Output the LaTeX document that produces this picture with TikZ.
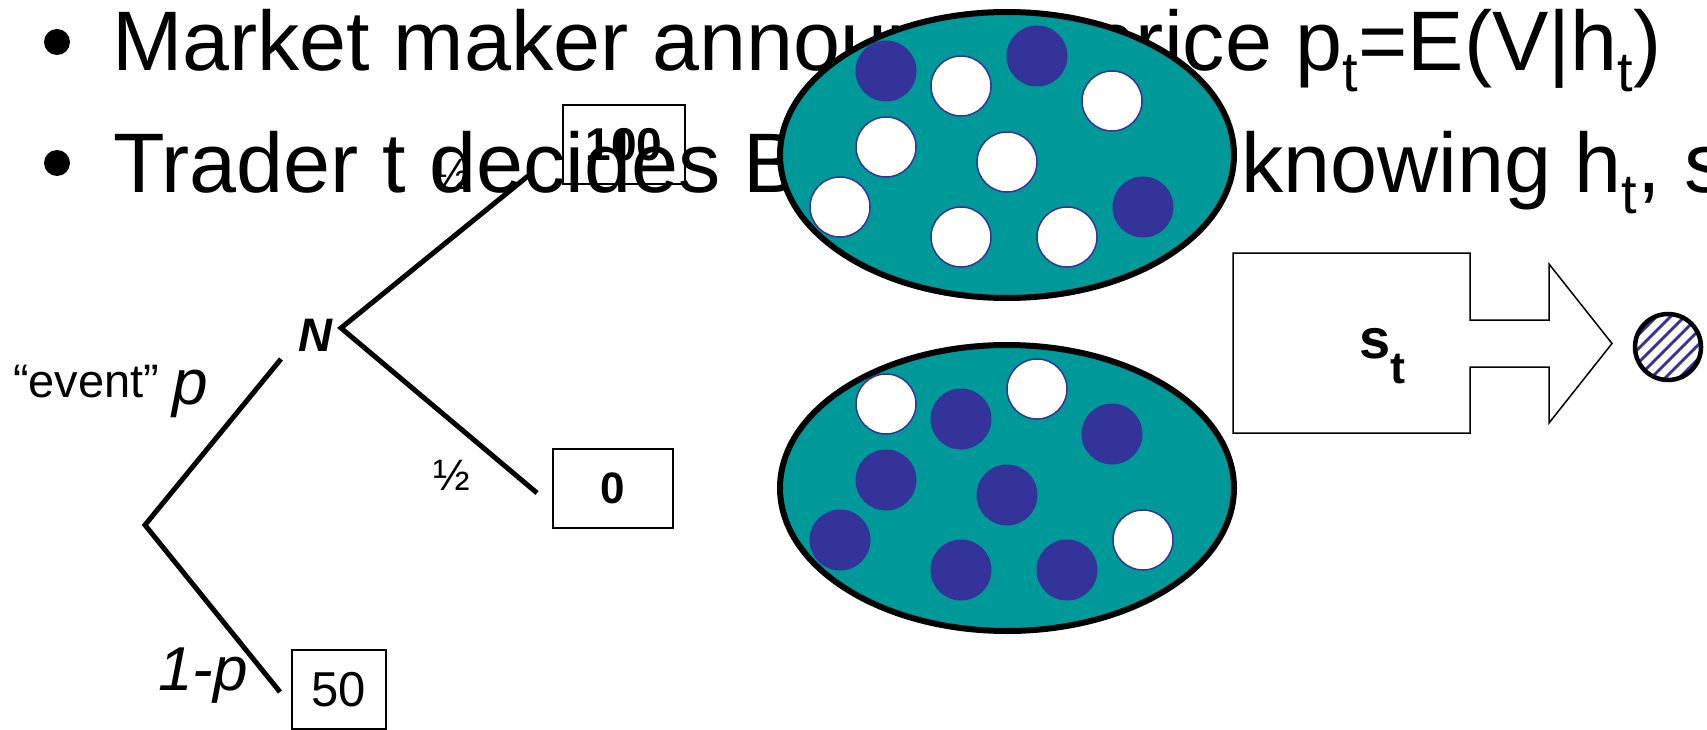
\documentclass[tikz,border=0pt]{standalone}
\usepackage{fontspec}
\setmainfont{Liberation Sans}
\definecolor{tealbag}{HTML}{009999}
\definecolor{navyball}{HTML}{333399}
\newcommand{\fs}[1]{\fontsize{#1pt}{#1pt}\selectfont}
\newcommand{\mysub}[3]{\raisebox{-#2pt}{\fs{#1}#3}}
\tikzset{
  branch/.style={line width=5pt, line join=miter},
  payoff/.style={draw, line width=1.6pt, inner sep=0pt},
  bag/.style={fill=tealbag, draw=black, line width=6pt},
  blueball/.style={fill=navyball, draw=navyball, line width=1pt},
  whiteball/.style={fill=white, draw=navyball, line width=1.5pt},
  txt/.style={inner sep=0pt, anchor=base west},
  bulletdot/.style={circle, fill=black, inner sep=0pt, minimum size=26pt},
}
\begin{document}
\begin{tikzpicture}[x=1pt, y=-1pt]
\useasboundingbox (0,0) rectangle (1707,730);
\clip (0,0) rectangle (1707,730);

% bullet text
\node[bulletdot] (b1) at (57,42) {};
\node[bulletdot] (b2) at (57,163) {};
\node[txt] (line1) at (112,71) {\fs{84.5}Market maker announces price p\mysub{56}{21}{t}=E(V|h\mysub{56}{21}{t})};
\node[txt] (line2a) at (113,193) {\fs{84.5}Trader t decides Buy or Sell,};
\node[txt] (line2b) at (1241,193) {\fs{84.5}knowing h\mysub{56}{21}{t}, s\mysub{56}{21}{t}};

% game tree
\coordinate (root) at (145,525);
\coordinate (pend) at (281,359);
\coordinate (nv) at (341,328);
\coordinate (uend) at (528,176);
\coordinate (dend) at (537,493);
\coordinate (lend) at (280,692);
\draw[branch] (pend) -- (root) -- (lend);
\draw[branch] (uend) -- (nv) -- (dend);
\node (N) at (315,335) {\fs{47}\bfseries\itshape N};
\node[payoff, minimum width=122pt, minimum height=79pt] (b100) at (624,144.5) {\fs{46}\bfseries 100};
\node[payoff, minimum width=120pt, minimum height=79pt] (b0) at (613,488.5) {\fs{44}\bfseries 0};
\node[payoff, minimum width=94pt, minimum height=79pt] (b50) at (339,689.5) {\fs{49}50};
\node (half1) at (452,174) {\fs{44}½};
\node (half2) at (452,475) {\fs{44}½};
\node[txt] (event) at (13,397) {\fs{47}“event”};
\node[txt] (plab) at (172,404) {\fs{64}\itshape p};
\node[txt] (qlab) at (158,690) {\fs{62}\itshape 1-p};

% bags of balls
\draw[bag] (1007,155) ellipse [x radius=227, y radius=143];
\draw[bag] (1007,488) ellipse [x radius=227, y radius=143];
% upper bag: mostly white
\foreach \dx/\dy/\st in {-121/-84/blueball, -46/-69/whiteball, 30/-99/blueball, 105/-54/whiteball,
  -121/-8/whiteball, 0/7/whiteball, -167/52/whiteball, -46/82/whiteball, 60/82/whiteball, 136/52/blueball}
  \draw[\st] (1007+\dx,155+\dy) circle (30);
% lower bag: mostly blue
\foreach \dx/\dy/\st in {-121/-84/whiteball, -46/-69/blueball, 30/-99/whiteball, 105/-54/blueball,
  -121/-8/blueball, 0/7/blueball, -167/52/blueball, -46/82/blueball, 60/82/blueball, 136/52/whiteball}
  \draw[\st] (1007+\dx,488+\dy) circle (30);

% signal arrow
\draw[line width=1.5pt, line join=miter] (1233,253) -- (1470,253) -- (1470,320) -- (1549,320) -- (1549,264)
  -- (1612,343.5) -- (1549,423) -- (1549,367) -- (1470,367) -- (1470,433) -- (1233,433) -- cycle;
\node[txt] (st) at (1359,358) {\fs{56}\bfseries s\mysub{45}{25}{t}};

% observed hatched ball
\node[circle, fill=white, inner sep=0pt, minimum size=66pt,
  path picture={\foreach \c in {-84,-70,...,84}
    \draw[navyball, line width=2.8pt] ([shift={(\c-60,60)}]path picture bounding box.center)
      -- ([shift={(\c+60,-60)}]path picture bounding box.center);}] (obs) at (1668,347) {};
\draw[line width=4.5pt] (obs.center) circle (33);
\end{tikzpicture}
\end{document}
